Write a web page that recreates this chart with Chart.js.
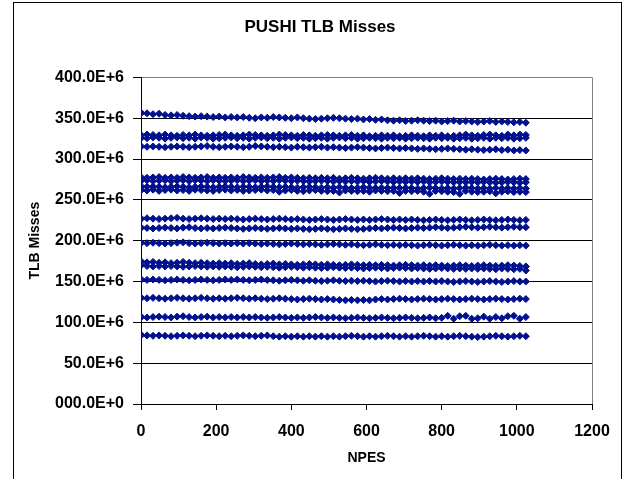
<!DOCTYPE html>
<html>
<head>
<meta charset="utf-8">
<title>PUSHI TLB Misses</title>
<script src="https://cdn.jsdelivr.net/npm/chart.js@4.4.1/dist/chart.umd.min.js"></script>
<style>
  html, body { margin: 0; padding: 0; background: #fff; }
  canvas { display: block; }
</style>
</head>
<body>
<canvas id="tlb" width="624" height="479"></canvas>
<script>
// NPES values shared by every band
const npes = [
  1, 16, 32, 48, 64, 80, 96, 112, 128, 144, 160, 176, 192,
  208, 224, 240, 256, 272, 288, 304, 320, 336, 352, 368, 384, 400,
  416, 432, 448, 464, 480, 496, 512, 528, 544, 560, 576, 592, 608,
  624, 640, 656, 672, 688, 704, 720, 736, 752, 768, 784, 800, 816,
  832, 848, 864, 880, 896, 912, 928, 944, 960, 976, 992, 1008, 1024
];

// TLB misses, in millions, one array per band (top to bottom)
const missesA = [
  356.5, 356, 355, 355.5, 354, 353.5, 354, 353, 352.5, 352, 352.5, 352, 351.5,
  352, 351, 351.5, 351, 351.5, 350.5, 350, 351, 350.5, 351.5, 351, 350.5, 350,
  351, 350, 349.5, 349, 349.5, 350, 350.5, 350, 349.5, 349, 349.5, 348.5, 349,
  348, 348.5, 347.5, 347, 347.5, 346.5, 347, 347.5, 347, 346.5, 347, 346, 346.5,
  347, 346, 346.5, 346, 345.5, 346, 346.5, 345.5, 346, 345.5, 345, 345.5, 344.5
];
const missesB1 = [
  329, 330, 329.5, 329, 330, 329, 328.5, 329.5, 329, 330, 329, 328.5, 329,
  329.5, 330, 329, 328.5, 329, 330, 329.5, 329, 328.5, 329, 330, 329.5, 329,
  328.5, 329.5, 329, 328.5, 329, 329.5, 329, 328.5, 329, 329.5, 328.5, 329, 328,
  328.5, 329, 328.5, 329, 328, 328.5, 329, 328.5, 328, 329, 328.5, 329, 328,
  328.5, 329, 330, 329, 328.5, 329.5, 330, 329, 328.5, 330, 329, 330, 329.5
];
const missesB2 = [
  326, 325.5, 326.5, 326, 325, 326, 326.5, 325.5, 326, 325, 326.5, 326, 325,
  325.5, 326, 326.5, 325.5, 326, 325, 326, 326.5, 325.5, 326, 325, 326, 326.5,
  325.5, 326, 325, 325.5, 326, 325, 326, 326.5, 325.5, 326, 325, 325.5, 326,
  325.5, 325, 326, 325.5, 326, 325, 325.5, 326, 325.5, 325, 326, 325.5, 326,
  325, 325.5, 326, 325, 325.5, 326, 325, 326, 325.5, 326, 325, 325.5, 326
];
const missesC = [
  315.5, 315, 315.5, 315, 314.5, 315, 315.5, 315, 314.5, 315, 315.5, 316, 315,
  314.5, 315, 315.5, 315, 314.5, 315, 316, 315.5, 315, 314.5, 315, 314.5, 314,
  315, 314.5, 314, 314.5, 315, 314, 314.5, 314, 313.5, 314, 314.5, 314, 313.5,
  313, 313.5, 314, 313.5, 313, 313.5, 313, 312.5, 313, 312.5, 312, 312.5, 313,
  312.5, 312, 311.5, 312, 311.5, 311, 311.5, 312, 311, 311.5, 310.5, 311, 310.5
];
const missesD1 = [
  277.5, 277, 277.5, 278, 277, 277.5, 277, 278, 277.5, 277, 277.5, 278, 277,
  277.5, 277, 277.5, 277, 278, 277.5, 277, 277.5, 277, 277.5, 278, 277, 277.5,
  277, 276.5, 277, 276.5, 277, 276.5, 277, 276, 276.5, 277, 276.5, 276, 276.5,
  277, 276.5, 276, 276.5, 276, 276.5, 276, 276.5, 276, 275.5, 276, 276.5, 276,
  275.5, 276, 275.5, 276, 275.5, 275, 275.5, 276, 275.5, 275, 275.5, 276, 275.5
];
const missesD2 = [
  273.5, 274, 273, 273.5, 274, 273, 273.5, 274, 273, 274, 273.5, 273, 274,
  273.5, 273, 273.5, 274, 273, 273.5, 274, 273, 273.5, 273, 274, 273.5, 273,
  273.5, 273, 272.5, 273, 273.5, 273, 272.5, 273, 272.5, 273, 272.5, 273, 272,
  272.5, 273, 272.5, 272, 272.5, 272, 272.5, 272, 272.5, 271.5, 272, 272.5, 272,
  271.5, 272, 271.5, 272, 271.5, 272, 271.5, 271, 271.5, 272, 271.5, 271, 271.5
];
const missesE1 = [
  266.5, 266, 266.5, 266, 265.5, 266, 266.5, 266, 265.5, 266, 266.5, 266, 265.5,
  266, 266.5, 266, 265.5, 266, 266, 265.5, 266, 266.5, 266, 265.5, 266, 265.5,
  265, 265.5, 266, 265.5, 265, 265.5, 265, 265.5, 265, 264.5, 265, 265.5, 265,
  264.5, 265, 264.5, 265, 264.5, 265, 264.5, 264, 264.5, 265, 264.5, 264, 264.5,
  264, 264.5, 265, 264.5, 264, 264.5, 264, 264.5, 264, 264.5, 264, 264.5, 264
];
const missesE2 = [
  262, 261.5, 262.5, 261, 262, 262.5, 261.5, 262, 261, 262.5, 262, 261.5, 261,
  262, 262.5, 261.5, 262, 261, 261.5, 262, 262.5, 261.5, 262, 260, 261.5, 262,
  261, 260.5, 261.5, 262, 261, 260.5, 261, 259, 261.5, 261, 260.5, 261, 260,
  261.5, 261, 260.5, 261, 258.5, 261, 260.5, 261, 260, 257.5, 261, 260.5, 260,
  259.5, 257.5, 261, 260, 259.5, 260, 260.5, 258, 260, 260.5, 259.5, 260, 259.5
];
const missesF = [
  227, 227.5, 227, 226.5, 227, 227.5, 228, 227, 226.5, 227, 227.5, 227, 226.5,
  227, 226.5, 227, 226.5, 226, 226.5, 227, 226.5, 226, 226.5, 227, 226.5, 226,
  226.5, 226, 225.5, 226, 226.5, 226, 225.5, 226, 226.5, 226, 225.5, 226, 225.5,
  226, 226.5, 226, 225.5, 226, 225.5, 226, 225.5, 225, 225.5, 226, 225.5, 225,
  225.5, 226, 225.5, 225, 225.5, 226, 225.5, 225, 225.5, 226, 225.5, 225, 225.5
];
const missesG = [
  216, 215.5, 215, 215.5, 216, 215.5, 215, 216, 216.5, 215.5, 215, 215.5, 215,
  215.5, 216, 215.5, 215, 214.5, 215, 215.5, 215, 214.5, 215, 215.5, 215, 214.5,
  215, 214.5, 214, 214.5, 215, 214.5, 214, 214.5, 215, 214.5, 214, 214.5, 215,
  215.5, 215, 215.5, 216, 215.5, 215, 215.5, 216, 215.5, 216, 216.5, 216, 215.5,
  216, 216.5, 217, 216.5, 216, 216.5, 217, 216.5, 216, 216.5, 217, 216.5, 216.5
];
const missesH = [
  197.5, 197, 197.5, 197, 196.5, 197, 197.5, 198, 197, 196.5, 197, 197.5, 197,
  196.5, 197, 196.5, 197, 196.5, 197, 196.5, 196, 196.5, 196, 195.5, 196, 196.5,
  196, 195.5, 196, 195.5, 195, 195.5, 196, 195.5, 195, 195.5, 195, 194.5, 195,
  195.5, 195, 194.5, 195, 194.5, 195, 194.5, 194, 194.5, 195, 194.5, 194, 194.5,
  195, 194.5, 194, 194.5, 194, 194.5, 195, 194.5, 194, 194.5, 194, 194.5, 194
];
const missesI1 = [
  174.5, 173.5, 174, 173, 173.5, 172.5, 173, 174, 173, 172.5, 173, 172.5, 172,
  172.5, 172, 172.5, 171.5, 172, 172.5, 171.5, 171, 171.5, 172, 171, 171.5, 171,
  170.5, 171, 171.5, 171, 170.5, 171, 170.5, 170, 170.5, 171, 170.5, 170, 170.5,
  170, 170.5, 170, 169.5, 170, 170.5, 170, 169.5, 170, 169.5, 170, 169.5, 169,
  169.5, 170, 169.5, 169, 169.5, 170, 169.5, 169, 169.5, 170, 169.5, 169, 168.5
];
const missesI2 = [
  170, 169, 168.5, 169, 168.5, 169, 168.5, 168, 168.5, 169, 168.5, 168, 168.5,
  168, 168.5, 168, 167.5, 168, 168.5, 168, 167.5, 168, 167.5, 167, 167.5, 168,
  167.5, 167, 167.5, 167, 166.5, 167, 167.5, 167, 166.5, 167, 166.5, 166, 166.5,
  167, 166.5, 166, 166.5, 167, 166.5, 166, 166.5, 166, 165.5, 166, 166.5, 166,
  165.5, 166, 165.5, 166, 165.5, 166, 165.5, 165, 166, 165.5, 165, 165.5, 163.5
];
const missesJ = [
  152.5, 152, 152.5, 152, 151.5, 152, 152.5, 152, 151.5, 152, 152.5, 152, 151.5,
  152, 152.5, 152, 152.5, 152, 151.5, 152, 152.5, 152, 151.5, 151, 151.5, 152,
  151.5, 151, 151.5, 151, 150.5, 151, 151.5, 151, 150.5, 151, 150.5, 151, 150.5,
  150, 150.5, 151, 150.5, 150, 150.5, 150, 150.5, 150, 150.5, 150, 150.5, 150,
  149.5, 150, 150.5, 150, 149.5, 150, 150.5, 150, 149.5, 150, 150.5, 150, 150
];
const missesK = [
  130, 129.5, 130, 129.5, 129, 129.5, 130, 129.5, 129, 129.5, 130, 129.5, 129,
  129.5, 129, 129.5, 130, 129.5, 129, 129.5, 129, 128.5, 129, 129.5, 129, 128.5,
  128, 128.5, 129, 128.5, 128, 128.5, 128, 127.5, 127, 127.5, 127, 127.5, 127,
  128, 128.5, 128, 128.5, 129, 128.5, 128, 128.5, 129, 128.5, 128, 128.5, 129,
  128.5, 128, 128.5, 129, 128.5, 128, 128.5, 129, 128.5, 128, 128.5, 129, 128.5
];
const missesL = [
  106.5, 106, 106.5, 107, 106.5, 106, 107, 107.5, 106.5, 106, 106.5, 107, 106,
  106.5, 106, 106.5, 106, 106.5, 106, 106.5, 106, 105.5, 106, 106.5, 106, 105.5,
  106, 105.5, 106, 106.5, 106, 105.5, 106, 105.5, 105, 105.5, 106, 105.5, 105,
  105.5, 106, 105.5, 105, 105.5, 106, 105.5, 105, 105.5, 106, 105, 105.5, 108,
  104.5, 107.5, 108, 104.5, 105, 107, 104.5, 106.5, 105, 107.5, 108, 104.5, 106.5
];
const missesM = [
  84.5, 84, 83.5, 84, 83.5, 83, 83.5, 84, 83.5, 83, 83.5, 84, 83.5,
  83, 83.5, 83, 83.5, 84, 83.5, 83, 83.5, 84, 83, 82.5, 83, 82.5,
  83, 82.5, 83, 82.5, 83, 82.5, 83, 82.5, 83, 83.5, 83, 82.5, 83,
  82.5, 83, 83.5, 83, 82.5, 83, 82.5, 83, 83.5, 83, 82.5, 83, 82.5,
  83, 83.5, 83, 82.5, 82, 82.5, 83, 83.5, 83, 82.5, 83, 83.5, 83
];

const yTickLabels = ['000.0E+0', '50.0E+6', '100.0E+6', '150.0E+6', '200.0E+6',
  '250.0E+6', '300.0E+6', '350.0E+6', '400.0E+6'];
const xTickLabels = ['0', '200', '400', '600', '800', '1000', '1200'];

const bands = [missesA, missesB1, missesB2, missesC, missesD1, missesD2, missesE1, missesE2,
  missesF, missesG, missesH, missesI1, missesI2, missesJ, missesK, missesL, missesM];

const navy = '#00108f';
const fontFamily = '"Liberation Sans", Arial, sans-serif';

const datasets = bands.map(row => ({
  data: npes.map((x, i) => ({ x: x, y: row[i] * 1e6 })),
  pointStyle: 'rectRot',
  pointRadius: 3.5,
  pointBorderWidth: 1,
  backgroundColor: navy,
  borderColor: navy,
  showLine: false
}));

// outer frame + grey plot-area border, like the Excel chart
const frame = {
  id: 'frame',
  beforeDraw(chart) {
    const ctx = chart.ctx;
    ctx.save();
    ctx.fillStyle = '#fff';
    ctx.fillRect(0, 0, chart.width, chart.height);
    ctx.strokeStyle = '#000';
    ctx.lineWidth = 1;
    ctx.strokeRect(13.5, 2.5, 608, 520);
    ctx.restore();
  },
  beforeDatasetsDraw(chart) {
    const { ctx, chartArea } = chart;
    ctx.save();
    ctx.strokeStyle = '#808080';
    ctx.lineWidth = 1;
    ctx.beginPath();
    ctx.moveTo(Math.round(chartArea.right) + 0.5, chartArea.top);
    ctx.lineTo(Math.round(chartArea.right) + 0.5, chartArea.bottom);
    ctx.stroke();
    ctx.restore();
  }
};

const ctx = document.getElementById('tlb').getContext('2d');
const chart = new Chart(ctx, {
  type: 'scatter',
  data: { datasets: datasets },
  plugins: [frame],
  options: {
    responsive: false,
    animation: false,
    layout: { padding: { left: 16, right: 0, top: 0, bottom: 0 } },
    plugins: {
      legend: { display: false },
      tooltip: { enabled: false },
      title: {
        display: true,
        text: 'PUSHI TLB Misses',
        color: '#000',
        font: { family: fontFamily, size: 17, weight: 'bold' },
        padding: { top: 17, bottom: 40 }
      }
    },
    scales: {
      x: {
        type: 'linear',
        min: 0,
        max: 1200,
        afterFit: scale => {
          scale.height = 75;
          scale.paddingRight = 32;
        },
        ticks: {
          stepSize: 200,
          color: '#000',
          padding: 12,
          maxRotation: 0,
          font: { family: fontFamily, size: 16, weight: 'bold' },
          callback: (value) => xTickLabels[Math.round(value / 200)]
        },
        grid: {
          drawOnChartArea: false,
          drawTicks: true,
          tickLength: 6,
          tickColor: '#000'
        },
        border: { color: '#000', width: 1 },
        title: {
          display: true,
          text: 'NPES',
          color: '#000',
          font: { family: fontFamily, size: 14, weight: 'bold' },
          padding: { top: 0, bottom: 12 }
        }
      },
      y: {
        min: 0,
        max: 400e6,
        afterFit: scale => { scale.width = 125; },
        ticks: {
          stepSize: 50e6,
          color: '#000',
          padding: 9,
          font: { family: fontFamily, size: 16, weight: 'bold' },
          callback: (value) => yTickLabels[Math.round(value / 50e6)]
        },
        grid: {
          color: c => (c.tick && c.tick.value === 400e6 ? '#808080' : '#000'),
          lineWidth: 1,
          tickLength: 8,
          tickColor: '#000'
        },
        border: { color: '#000', width: 1 },
        title: {
          display: true,
          text: 'TLB Misses',
          color: '#000',
          font: { family: fontFamily, size: 14, weight: 'bold' },
          padding: { top: 11, bottom: 0 }
        }
      }
    }
  }
});
</script>
</body>
</html>
